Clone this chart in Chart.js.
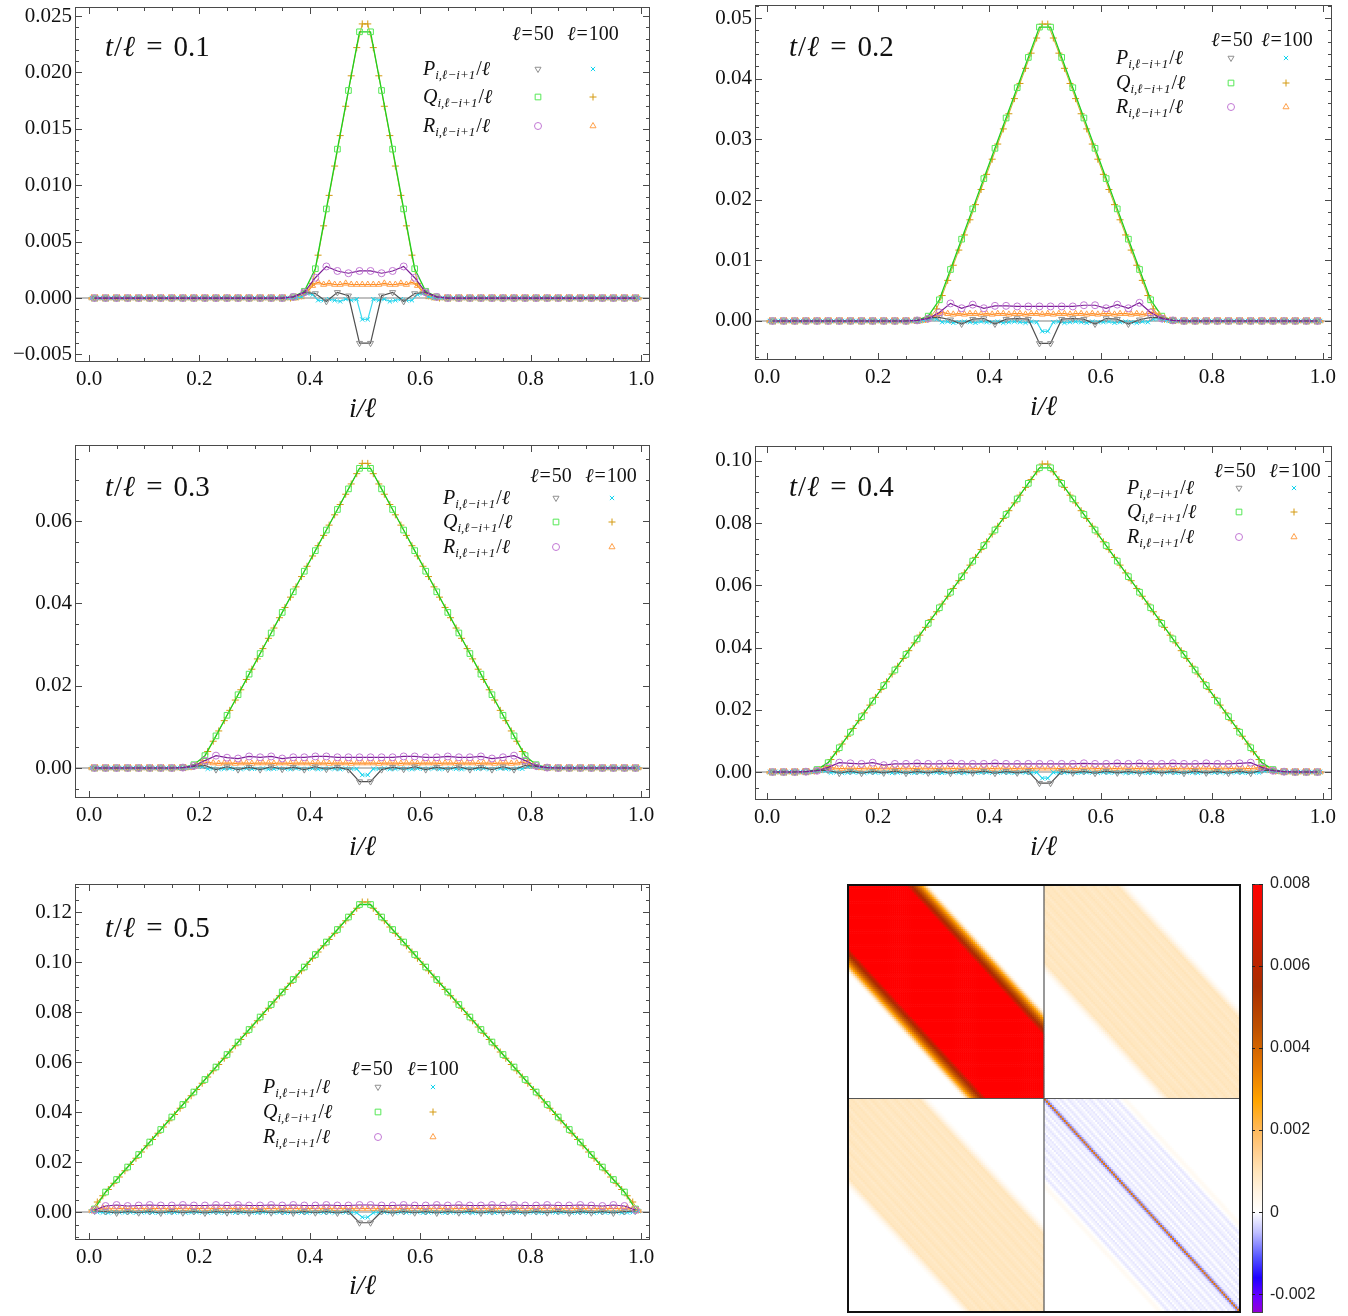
<!DOCTYPE html>
<html lang="en">
<head>
<meta charset="UTF-8">
<title>Correlation profiles after the quench</title>
<style>
  body { margin: 0; background: #fff; }
  #page { position: relative; width: 1348px; height: 1316px; overflow: hidden; }
  #page canvas { position: absolute; }
</style>
</head>
<body>
<div id="page"></div>
<script src="https://cdn.jsdelivr.net/npm/chart.js@4.4.1/dist/chart.umd.min.js"></script>
<script>
// all profile values are in units of 1e-4
// t/l = 0.1
const P50_01 = [0,0,0,0,0,0,0,0,0,0, 0,0,0,0,0,0,0,0, 1,5,4,-3,5,2,-40,-40,2,5,-3,4,5,1, 0,0,0,0,0,0,0,0,0,0, 0,0,0,0,0,0,0,0];
const Q50_01 = [0,0,0,0,0,0,0,0,0,0, 0,0,0,0,0,0,0,0, 1,6,26,79,132,184,236,236,184,132,79,26,6,1, 0,0,0,0,0,0,0,0,0,0, 0,0,0,0,0,0,0,0];
const R50_01 = [0,0,0,0,0,0,0,0,0,0, 0,0,0,0,0,0,0,0, 1,5,18,28,24,22,24,24,22,24,28,18,5,1, 0,0,0,0,0,0,0,0,0,0, 0,0,0,0,0,0,0,0];
const P100_01 = [0,0,0,0,0,0,0,0,0,0, 0,0,0,0,0,0,0,0,0,0, 0,0,0,0,0,0,0,0,0,0, 0,0,0,0,0,0,0,
  0,1,4,3,-2,-2,-1,-2,-3,-1,-2,-1,-19, -19,-1,-2,-1,-3,-2,-1,-2,-2,3,4,1,0,
  0,0,0,0,0,0,0,0,0,0, 0,0,0,0,0,0,0,0,0,0, 0,0,0,0,0,0,0,0,0,0, 0,0,0,0,0,0,0];
const Q100_01 = [0,0,0,0,0,0,0,0,0,0, 0,0,0,0,0,0,0,0,0,0, 0,0,0,0,0,0,0,0,0,0, 0,0,0,0,0,0,0,
  1,2,6,13,38,64,91,117,144,170,197,222,243, 243,222,197,170,144,117,91,64,38,13,6,2,1,
  0,0,0,0,0,0,0,0,0,0, 0,0,0,0,0,0,0,0,0,0, 0,0,0,0,0,0,0,0,0,0, 0,0,0,0,0,0,0];
const R100_01 = [0,0,0,0,0,0,0,0,0,0, 0,0,0,0,0,0,0,0,0,0, 0,0,0,0,0,0,0,0,0,0, 0,0,0,0,0,0,0,
  0,1,5,11,14,12,13,12,12,13,12,12,12, 12,12,12,13,12,12,13,12,14,11,5,1,0,
  0,0,0,0,0,0,0,0,0,0, 0,0,0,0,0,0,0,0,0,0, 0,0,0,0,0,0,0,0,0,0, 0,0,0,0,0,0,0];

// t/l = 0.2
const P50_02 = [0,0,0,0,0,0,0,0,0,0, 0,0,0, 1,5,6,2,-5,3,4,-5,3,4,3,-37, -37,3,4,3,-5,4,3,-5,2,6,5,1, 0,0,0,0,0,0,0,0,0,0, 0,0,0];
const Q50_02 = [0,0,0,0,0,0,0,0,0,0, 0,0,0, 1,8,35,85,135,185,235,285,335,385,435,485, 485,435,385,335,285,235,185,135,85,35,8,1, 0,0,0,0,0,0,0,0,0,0, 0,0,0];
const R50_02 = [0,0,0,0,0,0,0,0,0,0, 0,0,0, 1,4,14,29,21,27,21,25,25,24,24,24, 24,24,24,26,26,21,27,21,30,14,4,1, 0,0,0,0,0,0,0,0,0,0, 0,0,0];
const P100_02 = [0,0,0,0,0,0,0,0,0,0, 0,0,0,0,0,0,0,0,0,0, 0,0,0,0,0,0,
  0,0,1,4,3,-2,-1,-3,-2,-1, -2,-3,-1,-2,-2,-1,-3,-2,-1,-2, -3,-1,-2,-17,
  -17,-2,-1,-3,-2,-1,-2,-3,-1,-2, -2,-1,-3,-2,-1,-2,-3,-1,-2,3, 4,1,0,0,
  0,0,0,0,0,0,0,0,0,0, 0,0,0,0,0,0,0,0,0,0, 0,0,0,0,0,0];
const Q100_02 = [0,0,0,0,0,0,0,0,0,0, 0,0,0,0,0,0,0,0,0,0, 0,0,0,0,0,0,
  1,1,3,8,20,42,67,92,117,142, 167,192,217,242,267,292,317,342,367,392, 417,442,467,490,
  490,467,442,417,392,367,342,317,292,267, 242,217,192,167,142,117,92,67,42,20, 8,3,1,1,
  0,0,0,0,0,0,0,0,0,0, 0,0,0,0,0,0,0,0,0,0, 0,0,0,0,0,0];
const R100_02 = [0,0,0,0,0,0,0,0,0,0, 0,0,0,0,0,0,0,0,0,0, 0,0,0,0,0,0,
  0,0,1,5,10,14,12,11,12,11, 12,12,11,12,11,12,12,11,12,12, 11,12,12,11,
  12,11,12,12,11,12,12,11,12,11, 12,12,11,12,12,11,12,11,12,14, 10,5,1,0,
  0,0,0,0,0,0,0,0,0,0, 0,0,0,0,0,0,0,0,0,0, 0,0,0,0,0,0];

// t/l = 0.3
const P50_03 = [0,0,0,0,0,0,0,0, 1,4,6,-4,3,-4,2,-4,3,-3,2,-4,3,-3,2,-4,-33, -33,-4,2,-3,3,-4,2,-3,3,-4,2,-4,3,-4,6,4,1, 0,0,0,0,0,0,0,0];
const Q50_03 = [0,0,0,0,0,0,0,0, 1,8,30,78,128,178,228,278,328,378,428,478,528,578,628,678,728, 728,678,628,578,528,478,428,378,328,278,228,178,128,78,30,8,1, 0,0,0,0,0,0,0,0];
const R50_03 = [0,0,0,0,0,0,0,0, 1,5,18,30,25,23,28,26,28,23,26,26,28,28,26,26,26, 26,26,26,28,28,26,26,28,26,26,28,23,26,30,18,5,1, 0,0,0,0,0,0,0,0];
const P100_03 = [0,0,0,0,0,0,0,0,0,0, 0,0,0,0,0,0,
  0,0,1,4,3,-2,-1,-3,-2,-1, -2,-3,-1,-2,-2,-1,-3,-2,-1,-2, -3,-1,-2,-2,-1,-3,-2,-1,-2,-3, -1,-2,-2,-17,
  -17,-2,-2,-1,-3,-2,-1,-2,-3,-1, -2,-2,-1,-3,-2,-1,-2,-3,-1,-2, -2,-1,-3,-2,-1,-2,-3,-1,-2,3, 4,1,0,0,
  0,0,0,0,0,0,0,0,0,0, 0,0,0,0,0,0];
const Q100_03 = [0,0,0,0,0,0,0,0,0,0, 0,0,0,0,0,0,
  1,1,3,7,18,40,65,90,115,140, 165,190,215,240,265,290,315,340,365,390, 415,440,465,490,515,540,565,590,615,640, 665,690,715,740,
  740,715,690,665, 640,615,590,565,540,515,490,465,440,415, 390,365,340,315,290,265,240,215,190,165, 140,115,90,65,40,18,7,3,1,1,
  0,0,0,0,0,0,0,0,0,0, 0,0,0,0,0,0];
const R100_03 = [0,0,0,0,0,0,0,0,0,0, 0,0,0,0,0,0,
  0,0,1,5,10,14,12,11,12,12, 11,12,12,11,12,12,12,11,12,12, 11,12,12,12,11,12,12,11,12,12, 12,11,12,12,
  12,12,11,12,12,12,11,12,12,11, 12,12,12,11,12,12,11,12,12,12, 11,12,12,11,12,12,11,12,14,10, 5,1,0,0,
  0,0,0,0,0,0,0,0,0,0, 0,0,0,0,0,0];

// t/l = 0.4
const P50_04 = [0,0,0, 1,5,6,-4,3,-4,2,-3,3,-4, 2,-3,3,-4,2,-3,3,-4,2,-3, 2,-36,
  -36,2,-3,2,-4,3,-3,2,-4,3, -3,2,-4,3,-3,2,-4,3,-4,6, 5,1, 0,0,0];
const Q50_04 = [0,0,0, 1,8,30,78,128,178,228,278,328,378, 428,478,528,578,628,678,728,778,828,878, 928,978,
  978,928, 878,828,778,728,678,628,578,528,478,428, 378,328,278,228,178,128,78,30,8,1, 0,0,0];
const R50_04 = [0,0,0, 1,4,15,30,28,26,30,22,26,26, 28,26,26,28,26,26,26,28,26,26, 26,26,
  26,26,26,28,26,26,28,26,28,26, 26,28,26,26,28,26,26,28,30,15, 4,1, 0,0,0];
const P100_04 = [0,0,0,0,0,0,
  0,0,1,4,3,-2,-1,-3,-2,-1, -2,-3,-1,-2,-2,-1,-3,-2,-1,-2, -3,-1,-2,-2,-1,-3,-2,-1,-2,-3, -1,-2,-2,-1,-3,-2,-1,-2,-3,-1, -2,-2,-1,-20,
  -20,-1,-2,-2, -1,-3,-2,-1,-2,-3,-1,-2,-2,-1, -3,-2,-1,-2,-3,-1,-2,-2,-1,-3, -2,-1,-2,-3,-1,-2,-2,-1,-3,-2, -1,-2,-3,-1,-2,3,4,1,0,0,
  0,0,0,0,0,0];
const Q100_04 = [0,0,0,0,0,0,
  1,1,3,7,18,40,65,90,115,140, 165,190,215,240,265,290,315,340,365,390, 415,440,465,490,515,540,565,590,615,640, 665,690,715,740,765,790,815,840,865,890, 915,940,965,990,
  990,965,940,915, 890,865,840,815,790,765,740,715,690,665, 640,615,590,565,540,515,490,465,440,415, 390,365,340,315,290,265,240,215,190,165, 140,115,90,65,40,18,7,3,1,1,
  0,0,0,0,0,0];
const R100_04 = [0,0,0,0,0,0,
  0,0,1,5,10,14,12,11,12,12, 11,12,12,11,12,12,12,11,12,12, 11,12,12,12,11,12,12,11,12,12, 12,11,12,12,11,12,12,12,11,12, 12,11,12,12,
  12,12,11,12, 12,11,12,12,12,11,12,12,11,12, 12,12,11,12,12,11,12,12,12,11, 12,12,11,12,12,12,11,12,12,11, 12,12,11,12,14,10,5,1,0,0,
  0,0,0,0,0,0];

// t/l = 0.5
const P50_05 = [4,2,-4,2,-3,2,-4,3,-3,2, -4,2,-3,2,-4,3,-3,2,-4,2, -3,2,-4,2,-43,
  -43,2,-4,2,-3,2,-4,2,-3,3, -4,2,-3,2,-4,2,-3,3,-4,2, -3,2,-4,2,4];
const Q50_05 = [12,80,130,180,230,280,330,380,430,480, 530,580,630,680,730,780,830,880,930,980, 1030,1080,1130,1180,1230,
  1230,1180,1130,1080,1030, 980,930,880,830,780,730,680,630,580,530, 480,430,380,330,280,230,180,130,80,12];
const R50_05 = [8,24,28,24,26,28,26,26,28,26, 26,28,26,28,26,26,28,26,28,26, 26,28,26,26,28,
  28,26,26,28,26,26,28,26,28,26, 26,28,26,28,26,26,28,26,26,28, 26,24,28,24,8];
const P100_05 = [3,-1,-2,-3,-1,-2,-2,-1,-3,-2, -1,-2,-3,-1,-2,-2,-1,-3,-2,-1, -2,-3,-1,-2,-2,-1,-3,-2,-1,-2, -3,-1,-2,-2,-1,-3,-2,-1,-2,-3, -1,-2,-2,-1,-3,-2,-1,-2,-3,-21,
  -21,-3,-2,-1,-2,-3,-1,-2,-2,-1, -3,-2,-1,-2,-3,-1,-2,-2,-1,-3, -2,-1,-2,-3,-1,-2,-2,-1,-3,-2, -1,-2,-3,-1,-2,-2,-1,-3,-2,-1, -2,-3,-1,-2,-2,-1,-3,-2,-1,3];
const Q100_05 = [8,40,65,90,115,140,165,190,215,240, 265,290,315,340,365,390,415,440,465,490, 515,540,565,590,615,640,665,690,715,740, 765,790,815,840,865,890,915,940,965,990, 1015,1040,1065,1090,1115,1140,1165,1190,1215,1240,
  1240,1215,1190,1165,1140,1115,1090,1065,1040,1015, 990,965,940,915,890,865,840,815,790,765, 740,715,690,665,640,615,590,565,540,515, 490,465,440,415,390,365,340,315,290,265, 240,215,190,165,140,115,90,65,40,8];
const R100_05 = [6,13,16,14,13,14,14,13,14,14, 13,14,14,14,13,14,14,13,14,14, 14,13,14,14,13,14,14,14,13,14, 14,13,14,14,13,14,14,14,13,14, 14,13,14,14,13,14,14,14,13,14,
  14,13,14,14,14,13,14,14,13,14, 14,14,13,14,14,13,14,14,14,13, 14,14,13,14,14,14,13,14,14,13, 14,14,14,13,14,14,13,14,14,14, 13,14,14,13,14,14,13,16,13,6];

const xTickVals = [0, 0.2, 0.4, 0.6, 0.8, 1.0];

// density plot: value vs. distance |i-j| inside each block (units of 1e-4)
const blockAA = [100,100,100,100,100,100,100,100,100,100, 100,100,100,100,100,100,100,100,100,100, 100,100,100,100,100,100,100,100,100,100,
  70,62,56,50,45,40,34,28,20,12,5,1,
  0,0,0,0,0,0,0,0,0,0, 0,0,0,0,0,0,0,0,0,0, 0,0,0,0,0,0,0,0,0,0, 0,0,0,0,0,0,0,0,0,0, 0,0,0,0,0,0,0,0,0,0, 0,0,0,0,0,0,0,0];
const blockAB = [9,9,10,9,8,9,9,10,9,9, 8,9,10,9,9,8,9,9,10,9, 9,8,9,9,10,9,8,9,9,9, 10,9,8,9,9,9,10,
  8,6,4,2,1,
  0,0,0,0,0,0,0,0,0,0, 0,0,0,0,0,0,0,0,0,0, 0,0,0,0,0,0,0,0,0,0, 0,0,0,0,0,0,0,0,0,0, 0,0,0,0,0,0,0,0,0,0, 0,0,0,0,0,0,0,0];
const blockBB = [36,-7,
  -2,-1,-1,-2,0,-1,-2,-1,0,-1, -2,-1,-1,0,-2,-1,-1,-2,0,-1, -1,-2,-1,0,-1,-2,-1,-1,0,-2, -1,-1,0,-1,-2,-1,0,
  1,2,2,1,0,
  0,0,0,0,0,0,0,0,0,0, 0,0,0,0,0,0,0,0,0,0, 0,0,0,0,0,0,0,0,0,0, 0,0,0,0,0,0,0,0,0,0, 0,0,0,0,0,0,0,0,0,0, 0,0,0,0,0,0];

const cbTickVals = [-0.002, 0, 0.002, 0.004, 0.006, 0.008];
const cbMin = -0.00246, cbMax = 0.008;

const SERIF = '"Liberation Serif", "Times New Roman", "DejaVu Serif", serif';
const SANS = '"Liberation Sans", Arial, "DejaVu Sans", sans-serif';

// colour scale of the density plot
const cmapStops = [
  [-0.00246, [148, 0, 211]], [-0.0021, [110, 0, 255]], [-0.0016, [30, 0, 255]],
  [-0.0011, [85, 85, 255]], [-0.0005, [190, 190, 255]], [0, [255, 255, 255]],
  [0.0005, [255, 243, 225]], [0.001, [255, 228, 185]], [0.0015, [255, 205, 140]],
  [0.002, [255, 185, 90]], [0.0027, [255, 165, 0]], [0.0035, [230, 120, 0]],
  [0.0045, [190, 80, 0]], [0.0055, [170, 45, 0]], [0.0065, [200, 30, 0]],
  [0.0075, [240, 10, 0]], [0.008, [255, 0, 0]]
];
function cmap(v) {
  if (v <= cmapStops[0][0]) return `rgb(${cmapStops[0][1]})`;
  for (let k = 1; k < cmapStops.length; k++) {
    const [v1, c1] = cmapStops[k];
    if (v <= v1) {
      const [v0, c0] = cmapStops[k - 1];
      const f = (v - v0) / (v1 - v0);
      return `rgb(${c0.map((c, j) => Math.round(c + f * (c1[j] - c))).join(',')})`;
    }
  }
  return `rgb(${cmapStops[cmapStops.length - 1][1]})`;
}

const sites = L => Array.from({length: L}, (_, i) => (i + 0.5) / L);
const x50 = sites(50), x100 = sites(100);

const seriesStyle = {
  R50:  {line: '#7b1e96', mark: '#c278d4', shape: 'circle',   rot: 0,   r: 3.5, w: 1.2},
  P50:  {line: '#505050', mark: '#8f8f8f', shape: 'triangle', rot: 180, r: 3.5, w: 1.2},
  P100: {line: '#3fd8ec', mark: '#14d4ee', shape: 'crossRot', rot: 0,   r: 3,   w: 1.2},
  R100: {line: '#ff8a1c', mark: '#ffa04a', shape: 'triangle', rot: 0,   r: 3.5, w: 1.2},
  Q50:  {line: '#1fcf1f', mark: '#55e855', shape: 'rect',     rot: 0,   r: 4,   w: 1.3},
  Q100: {line: '#d2a51a', mark: '#d49a10', shape: 'cross',    rot: 0,   r: 3.5, w: 0.9}
};
// first entry ends up on top
const drawOrder = ['R50', 'P50', 'P100', 'R100', 'Q50', 'Q100'];

const panels = [
  {tl: '0.1', data: {P50: P50_01, Q50: Q50_01, R50: R50_01, P100: P100_01, Q100: Q100_01, R100: R100_01},
   box: {left: 0, top: 0, w: 670, h: 432}, area: {l: 75, t: 7, r: 650, b: 362}, titlePad: 6,
   x: [-0.0254, 1.0163], y: [-0.00567, 0.0258], yTicks: [-0.005, 0, 0.005, 0.01, 0.015, 0.02, 0.025], yDec: 3, yMinor: 0.001,
   label: {x: 105, y: 56},
   leg: {lx: 423, rows: [69, 97, 126], mx: [538, 593], hy: 40, hx: [533, 593]}},
  {tl: '0.2', data: {P50: P50_02, Q50: Q50_02, R50: R50_02, P100: P100_02, Q100: Q100_02, R100: R100_02},
   box: {left: 680, top: 0, w: 668, h: 432}, area: {l: 755, t: 5, r: 1332, b: 360}, titlePad: 8,
   x: [-0.0216, 1.0162], y: [-0.00644, 0.05215], yTicks: [0, 0.01, 0.02, 0.03, 0.04, 0.05], yDec: 2, yMinor: 0.002,
   label: {x: 789, y: 56},
   leg: {lx: 1116, rows: [58, 83, 107], mx: [1231, 1286], hy: 46, hx: [1232, 1287]}},
  {tl: '0.3', data: {P50: P50_03, Q50: Q50_03, R50: R50_03, P100: P100_03, Q100: Q100_03, R100: R100_03},
   box: {left: 0, top: 438, w: 670, h: 432}, area: {l: 75, t: 445, r: 650, b: 798}, titlePad: 6,
   x: [-0.0254, 1.0163], y: [-0.00729, 0.07846], yTicks: [0, 0.02, 0.04, 0.06], yDec: 2, yMinor: 0.005,
   label: {x: 105, y: 496},
   leg: {lx: 443, rows: [498, 522, 547], mx: [556, 612], hy: 482, hx: [551, 611]}},
  {tl: '0.4', data: {P50: P50_04, Q50: Q50_04, R50: R50_04, P100: P100_04, Q100: Q100_04, R100: R100_04},
   box: {left: 680, top: 438, w: 668, h: 432}, area: {l: 755, t: 446, r: 1332, b: 800}, titlePad: 6,
   x: [-0.0216, 1.0162], y: [-0.0090, 0.1048], yTicks: [0, 0.02, 0.04, 0.06, 0.08, 0.1], yDec: 2, yMinor: 0.005,
   label: {x: 789, y: 496},
   leg: {lx: 1127, rows: [488, 512, 537], mx: [1239, 1294], hy: 477, hx: [1235, 1295]}},
  {tl: '0.5', data: {P50: P50_05, Q50: Q50_05, R50: R50_05, P100: P100_05, Q100: Q100_05, R100: R100_05},
   box: {left: 0, top: 876, w: 670, h: 440}, area: {l: 75, t: 884, r: 650, b: 1240}, titlePad: 13,
   x: [-0.0254, 1.0163], y: [-0.0112, 0.1312], yTicks: [0, 0.02, 0.04, 0.06, 0.08, 0.1, 0.12], yDec: 2, yMinor: 0.005,
   label: {x: 105, y: 937},
   leg: {lx: 263, rows: [1087, 1112, 1137], mx: [378, 433], hy: 1075, hx: [372, 433]}}
];

const page = document.getElementById('page');
function makeCanvas(left, top, w, h) {
  const c = document.createElement('canvas');
  c.width = w; c.height = h;
  c.style.left = left + 'px'; c.style.top = top + 'px';
  c.style.width = w + 'px'; c.style.height = h + 'px';
  page.appendChild(c);
  return c;
}

// mixed italic / upright text, subscripts through dy
function richWidth(ctx, parts) {
  let w = 0;
  for (const p of parts) {
    ctx.font = `${p.it ? 'italic ' : ''}${p.size}px ${SERIF}`;
    w += ctx.measureText(p.t).width + (p.gap || 0);
  }
  return w;
}
function drawRich(ctx, parts, x, y) {
  let cx = x;
  for (const p of parts) {
    ctx.font = `${p.it ? 'italic ' : ''}${p.size}px ${SERIF}`;
    ctx.fillText(p.t, cx, y + (p.dy || 0));
    cx += ctx.measureText(p.t).width + (p.gap || 0);
  }
}

function drawMarker(ctx, st, x, y) {
  const r = st.r;
  ctx.save();
  ctx.strokeStyle = st.mark; ctx.lineWidth = 1;
  ctx.beginPath();
  if (st.shape === 'circle') {
    ctx.arc(x, y, r, 0, Math.PI * 2);
  } else if (st.shape === 'rect') {
    const s = r * Math.SQRT1_2;
    ctx.rect(x - s, y - s, 2 * s, 2 * s);
  } else if (st.shape === 'triangle') {
    const dir = st.rot === 180 ? -1 : 1;
    ctx.moveTo(x, y - dir * r);
    ctx.lineTo(x - r * 0.866, y + dir * r * 0.5);
    ctx.lineTo(x + r * 0.866, y + dir * r * 0.5);
    ctx.closePath();
  } else if (st.shape === 'cross') {
    ctx.moveTo(x - r, y); ctx.lineTo(x + r, y);
    ctx.moveTo(x, y - r); ctx.lineTo(x, y + r);
  } else if (st.shape === 'crossRot') {
    const s = r * Math.SQRT1_2;
    ctx.moveTo(x - s, y - s); ctx.lineTo(x + s, y + s);
    ctx.moveTo(x - s, y + s); ctx.lineTo(x + s, y - s);
  }
  ctx.stroke();
  ctx.restore();
}

function decoPlugin(p) {
  const ox = p.box.left, oy = p.box.top;
  return {
    id: 'panelDeco',
    beforeDatasetsDraw(chart) {
      const {ctx, chartArea: a, scales: {y}} = chart;
      const y0 = y.getPixelForValue(0);
      ctx.save();
      ctx.strokeStyle = '#ababab'; ctx.lineWidth = 1.5;
      ctx.beginPath(); ctx.moveTo(a.left, y0); ctx.lineTo(a.right, y0); ctx.stroke();
      ctx.restore();
    },
    afterDraw(chart) {
      const {ctx, chartArea: a, scales: {x, y}} = chart;
      ctx.save();
      ctx.strokeStyle = '#4a4a4a'; ctx.lineWidth = 1;
      ctx.strokeRect(a.left + 0.5, a.top + 0.5, a.right - a.left - 1, a.bottom - a.top - 1);
      // inward ticks on all four sides
      const ticksAlong = (scale, minor, major, horiz) => {
        const k0 = Math.ceil(scale.min / minor - 1e-9), k1 = Math.floor(scale.max / minor + 1e-9);
        for (let k = k0; k <= k1; k++) {
          const v = k * minor;
          const isMajor = Math.abs(v / major - Math.round(v / major)) < 1e-6;
          const len = isMajor ? 7 : 4;
          const px = Math.round(scale.getPixelForValue(v)) + 0.5;
          ctx.beginPath();
          if (horiz) {
            ctx.moveTo(px, a.bottom); ctx.lineTo(px, a.bottom - len);
            ctx.moveTo(px, a.top); ctx.lineTo(px, a.top + len);
          } else {
            ctx.moveTo(a.left, px); ctx.lineTo(a.left + len, px);
            ctx.moveTo(a.right, px); ctx.lineTo(a.right - len, px);
          }
          ctx.stroke();
        }
      };
      ticksAlong(x, 0.05, 0.2, true);
      ticksAlong(y, p.yMinor, p.yTicks[1] - p.yTicks[0], false);

      // panel label t/l = ...
      ctx.fillStyle = '#111';
      ctx.textBaseline = 'alphabetic';
      drawRich(ctx, [
        {t: 't', it: true, size: 29, gap: 1}, {t: '/', size: 29, gap: 1}, {t: 'ℓ', it: true, size: 29, gap: 11},
        {t: '=', size: 29, gap: 11}, {t: p.tl, size: 29}
      ], p.label.x - ox, p.label.y - oy);

      // legend block
      const L = p.leg;
      ['50', '100'].forEach((n, k) => {
        const parts = [{t: 'ℓ', it: true, size: 20, gap: 1}, {t: '=', size: 20, gap: 1}, {t: n, size: 20}];
        const w = richWidth(ctx, parts);
        drawRich(ctx, parts, L.hx[k] - ox - w / 2, L.hy - oy);
      });
      ['P', 'Q', 'R'].forEach((s, row) => {
        const yy = L.rows[row] - oy;
        drawRich(ctx, [
          {t: s, it: true, size: 20}, {t: 'i,ℓ−i+1', it: true, size: 13, dy: 4, gap: 1},
          {t: '/', size: 20}, {t: 'ℓ', it: true, size: 20}
        ], L.lx - ox, yy + 6);
        drawMarker(ctx, seriesStyle[s + '50'], L.mx[0] - ox, yy);
        drawMarker(ctx, seriesStyle[s + '100'], L.mx[1] - ox, yy);
      });
      ctx.restore();
    }
  };
}

function fmtY(v, dec) {
  const s = Math.abs(v).toFixed(dec);
  return v < -1e-12 ? '\u2212' + s : s;
}

panels.forEach(p => {
  const c = makeCanvas(p.box.left, p.box.top, p.box.w, p.box.h);
  const datasets = drawOrder.map(key => {
    const st = seriesStyle[key];
    const xs = key.endsWith('100') ? x100 : x50;
    const vals = p.data[key];
    return {
      label: key,
      data: xs.map((xv, i) => ({x: xv, y: vals[i] * 1e-4})),
      borderColor: st.line, borderWidth: st.w, tension: 0, fill: false,
      pointStyle: st.shape, pointRotation: st.rot, pointRadius: st.r,
      pointBorderColor: st.mark, pointBackgroundColor: 'rgba(0,0,0,0)', pointBorderWidth: 1
    };
  });
  new Chart(c.getContext('2d'), {
    type: 'line',
    data: {datasets},
    options: {
      responsive: false, animation: false,
      layout: {padding: {top: p.area.t - p.box.top, right: p.box.left + p.box.w - p.area.r, left: 0, bottom: 0}},
      plugins: {legend: {display: false}, tooltip: {enabled: false}},
      scales: {
        x: {
          type: 'linear', min: p.x[0], max: p.x[1],
          afterBuildTicks: s => { s.ticks = xTickVals.map(v => ({value: v})); },
          afterFit: s => {
            s.height = p.box.top + p.box.h - p.area.b;
            s.paddingLeft = 0; s.paddingRight = 0;
          },
          grid: {display: false, drawTicks: false}, border: {display: false},
          ticks: {color: '#111', padding: 5, maxRotation: 0, autoSkip: false,
                  font: {family: SERIF, size: 21}, callback: v => v.toFixed(1)},
          title: {display: true, text: 'i/ℓ', color: '#111',
                  font: {family: SERIF, size: 28, style: 'italic'}, padding: {top: 0, bottom: p.titlePad}}
        },
        y: {
          type: 'linear', min: p.y[0], max: p.y[1],
          afterBuildTicks: s => { s.ticks = p.yTicks.map(v => ({value: v})); },
          afterFit: s => {
            s.width = p.area.l - p.box.left;
            s.paddingTop = 0; s.paddingBottom = 0;
          },
          grid: {display: false, drawTicks: false}, border: {display: false},
          ticks: {color: '#111', padding: 3, autoSkip: false,
                  font: {family: SERIF, size: 21}, callback: v => fmtY(v, p.yDec)}
        }
      }
    },
    plugins: [decoPlugin(p)]
  });
});

// density plot of the four blocks
const N = 100;
const heatCanvas = makeCanvas(847, 884, 394, 429);
const heatPlugin = {
  id: 'blocks',
  beforeDatasetsDraw(chart) {
    const {ctx, scales: {x, y}} = chart;
    ctx.save();
    for (let r = 0; r < 2 * N; r++) {
      for (let c = 0; c < 2 * N; c++) {
        const br = r < N ? 0 : 1, bc = c < N ? 0 : 1;
        const prof = br === 0 && bc === 0 ? blockAA : (br === 1 && bc === 1 ? blockBB : blockAB);
        const d = Math.abs((r % N) - (c % N));
        ctx.fillStyle = cmap(prof[d] * 1e-4);
        const x0 = x.getPixelForValue(c), x1 = x.getPixelForValue(c + 1);
        const y0 = y.getPixelForValue(r), y1 = y.getPixelForValue(r + 1);
        ctx.fillRect(x0, y0, x1 - x0 + 0.6, y1 - y0 + 0.6);
      }
    }
    ctx.restore();
  },
  afterDraw(chart) {
    const {ctx, chartArea: a, scales: {x, y}} = chart;
    ctx.save();
    ctx.strokeStyle = '#555'; ctx.lineWidth = 1.2;
    const mx = x.getPixelForValue(N), my = y.getPixelForValue(N);
    ctx.beginPath();
    ctx.moveTo(mx, a.top); ctx.lineTo(mx, a.bottom);
    ctx.moveTo(a.left, my); ctx.lineTo(a.right, my);
    ctx.stroke();
    ctx.strokeStyle = '#111'; ctx.lineWidth = 2;
    ctx.strokeRect(a.left + 1, a.top + 1, a.right - a.left - 2, a.bottom - a.top - 2);
    ctx.restore();
  }
};
new Chart(heatCanvas.getContext('2d'), {
  type: 'scatter',
  data: {datasets: []},
  options: {
    responsive: false, animation: false,
    layout: {padding: 0},
    plugins: {legend: {display: false}, tooltip: {enabled: false}},
    scales: {
      x: {type: 'linear', min: 0, max: 2 * N, display: false},
      y: {type: 'linear', min: 0, max: 2 * N, reverse: true, display: false}
    }
  },
  plugins: [heatPlugin]
});

// colour bar
const barCanvas = makeCanvas(1248, 870, 100, 446);
function barGradient(chart) {
  const {ctx, chartArea: a, scales: {y}} = chart;
  if (!a) return '#fff';
  const g = ctx.createLinearGradient(0, a.bottom, 0, a.top);
  cmapStops.forEach(([v, rgb]) => {
    const f = (y.getPixelForValue(v) - a.bottom) / (a.top - a.bottom);
    g.addColorStop(Math.min(1, Math.max(0, f)), `rgb(${rgb})`);
  });
  return g;
}
new Chart(barCanvas.getContext('2d'), {
  type: 'bar',
  data: {labels: [''], datasets: [{data: [[cbMin, cbMax]], backgroundColor: c => barGradient(c.chart),
    borderWidth: 0, barPercentage: 1, categoryPercentage: 1}]},
  options: {
    responsive: false, animation: false,
    layout: {padding: {left: 4, top: 14, bottom: 3, right: 0}},
    plugins: {legend: {display: false}, tooltip: {enabled: false}},
    scales: {
      x: {display: false},
      y: {
        position: 'right', min: cbMin, max: cbMax,
        afterBuildTicks: s => { s.ticks = cbTickVals.map(v => ({value: v})); },
        afterFit: s => { s.width = 85; s.paddingTop = 0; s.paddingBottom = 0; },
        grid: {display: false, drawTicks: false}, border: {display: false},
        ticks: {color: '#222', padding: 7, autoSkip: false, font: {family: SANS, size: 16},
                callback: v => Math.abs(v) < 1e-12 ? '0' : v.toFixed(3)}
      }
    }
  },
  plugins: [{
    id: 'barFrame',
    afterDraw(chart) {
      const {ctx, chartArea: a, scales: {y}} = chart;
      ctx.save();
      ctx.strokeStyle = '#444'; ctx.lineWidth = 1;
      ctx.strokeRect(a.left + 0.5, a.top + 0.5, a.right - a.left - 1, a.bottom - a.top - 1);
      ctx.strokeStyle = '#222';
      cbTickVals.forEach(v => {
        const py = Math.round(y.getPixelForValue(v)) + 0.5;
        ctx.beginPath();
        ctx.moveTo(a.right - 4, py); ctx.lineTo(a.right, py);
        ctx.moveTo(a.left, py); ctx.lineTo(a.left + 3, py);
        ctx.stroke();
      });
      ctx.restore();
    }
  }]
});
</script>
</body>
</html>
